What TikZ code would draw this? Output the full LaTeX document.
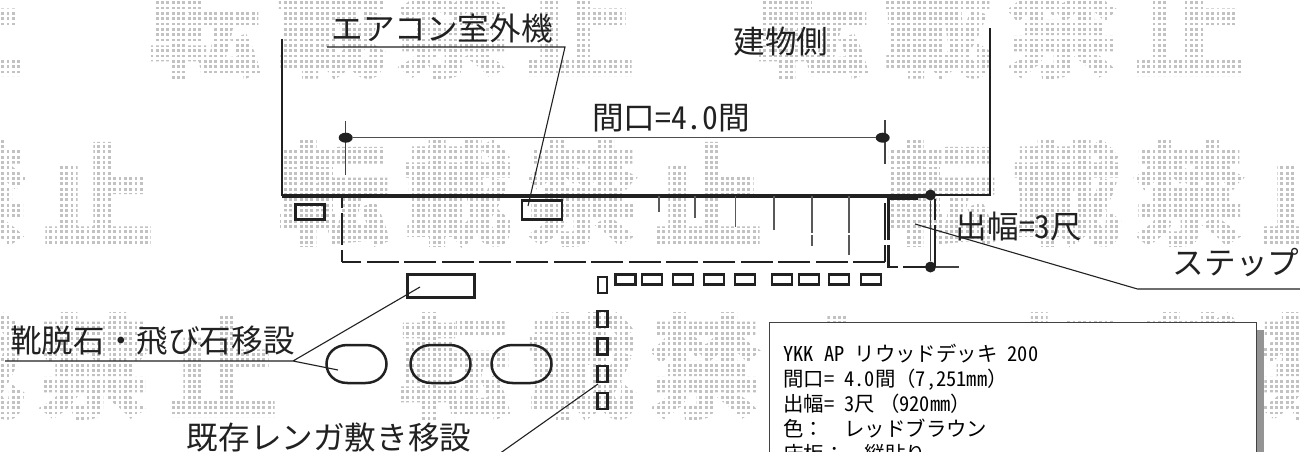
\documentclass[tikz,border=0pt]{standalone}
\usepackage{fontspec}
\setmainfont{Noto Sans CJK JP}
\newfontfamily\jpf{Noto Sans CJK JP}
\newfontfamily\wmf[FakeBold=4]{Noto Sans CJK JP Bold}
\newfontfamily\hwf[RawFeature=+hwid]{Noto Sans CJK JP}
\newcommand{\hw}[1]{{\hwf #1}}
\newcommand{\hs}{\hspace{.5em}}
\definecolor{ink}{gray}{0.13}
\definecolor{markgray}{gray}{0.76}
\tikzset{
  x=1pt,y=-1pt,
  wm/.style={font=\wmf\fontsize{110}{110}\selectfont,text=markgray,inner sep=0pt,anchor=center},
  lab/.style={font=\jpf\fontsize{31.6}{34}\selectfont,text=ink,inner sep=0pt,anchor=center},
  wall/.style={draw=ink,line width=2.7pt,line cap=butt,line join=miter},
  leader/.style={draw=ink,line width=1.1pt},
  dimthin/.style={draw=ink!85,line width=1.2pt},
  dashline/.style={draw=ink,line width=2.7pt,dash pattern=on 32pt off 5.4pt},
  brick/.style={draw=ink,line width=2.6pt,inner sep=0pt,fill=none},
  dimdot/.style={ellipse,fill=ink,inner sep=0pt},
  stoneline/.style={draw=ink,line width=2.5pt},
}
\usetikzlibrary{shapes.geometric}
\newcommand{\wmnode}[3]{\node[wm] (wm#1) at (#2) {#3};}
\newcommand{\brickbox}[5]{\node[brick,minimum width=#4pt,minimum height=#5pt] (#1) at (#2,#3) {};}
\newcommand{\stone}[2]{\draw[stoneline,shift={(#1,#2)}] (-9,-19) -- (9,-19) .. controls (22,-19) and (30,-10) .. (30,0) .. controls (30,10) and (22,19) .. (9,19) -- (-9,19) .. controls (-22,19) and (-30,10) .. (-30,0) .. controls (-30,-10) and (-22,-19) .. (-9,-19) -- cycle;}
\begin{document}
\begin{tikzpicture}
\useasboundingbox (0,0) rectangle (1300,452);
\clip (0,0) rectangle (1300,452);
\fill[white] (0,0) rectangle (1300,452);
% watermark
\wmnode{a1}{-31,25}{止}\wmnode{a2}{205,25}{転}\wmnode{a3}{331,25}{載}\wmnode{a4}{453,25}{禁}\wmnode{a5}{579,25}{止}
\wmnode{a6}{813,25}{転}\wmnode{a7}{937,25}{載}\wmnode{a8}{1062,25}{禁}\wmnode{a9}{1189,25}{止}
\wmnode{b1}{-28,193}{禁}\wmnode{b2}{98,193}{止}\wmnode{b3}{334,193}{転}\wmnode{b4}{458,193}{載}\wmnode{b5}{582,193}{禁}\wmnode{b6}{707,193}{止}
\wmnode{b7}{941,193}{転}\wmnode{b8}{1067,193}{載}\wmnode{b9}{1189,193}{禁}\wmnode{b10}{1316,193}{止}
\wmnode{c1}{-30,366}{載}\wmnode{c2}{94,366}{禁}\wmnode{c3}{222,366}{止}\wmnode{c4}{455,366}{転}\wmnode{c5}{582,366}{載}\wmnode{c6}{705,366}{禁}\wmnode{c7}{832,366}{止}
\wmnode{c8}{1065,366}{転}\wmnode{c9}{1192,366}{載}\wmnode{c10}{1315,366}{禁}
\draw[white,line width=2.5pt,step=5.33pt] (-5,-30) grid (1305,460);
% building
\draw[wall] (282,39) -- (282,195) -- (990,195) -- (990,28);
\draw[draw=ink,line width=2.4pt] (282,196.5) -- (932,196.5);
% dimension
\coordinate (tl1) at (345.7,121); \coordinate (tl2) at (345.7,175);
\coordinate (tr1) at (885,120); \coordinate (tr2) at (885,164);
\draw[dimthin] (tl1) -- (tl2);
\draw[dimthin] (tr1) -- (tr2);
\node[dimdot,minimum width=14pt,minimum height=10pt] (dl) at (345.7,137.7) {};
\node[dimdot,minimum width=14pt,minimum height=10pt] (dr) at (882.7,137.7) {};
\draw[draw=ink!80,line width=1.3pt] (dl) -- (dr);
\node[lab] (maguchi) at (671,118) {間口\hw{=4.0}間};
% deck
\coordinate (dnw) at (342,197); \coordinate (dne) at (885,197);
\coordinate (dsw) at (342,262); \coordinate (dse) at (885,262);
\draw[dashline] (dne) -- (dnw);
\draw[dashline] (dse) -- (dsw);
\draw[draw=ink,line width=2.7pt,dash pattern=on 12pt off 5pt on 32pt off 5pt on 12pt] (dsw) -- (dnw);
\draw[draw=ink,line width=2.7pt,dash pattern=on 17pt off 5pt on 37pt off 5pt] (dse) -- (dne);
% board ticks
\draw[draw=ink!75,line width=1.2pt]
  (659,196) -- (659,212) (695,196) -- (695,218) (735.7,196) -- (735.7,227)
  (774,196) -- (774,230) (812,196) -- (812,233) (812,235) -- (812,246)
  (849,196) -- (849,233) (849,235) -- (849,255);
% step
\draw[draw=ink,line width=2.7pt] (888.5,240) -- (888.5,199) -- (918,199);
\draw[draw=ink,line width=2.7pt] (888.5,245) -- (888.5,267) -- (898,267) (903,267) -- (931,267);
\draw[draw=ink,line width=2.5pt] (935,199) -- (935,220) (935,225) -- (935,267);
\node[dimdot,minimum width=11pt,minimum height=11pt] (st1) at (930.5,195) {};
\node[dimdot,minimum width=11pt,minimum height=11pt] (st2) at (930.5,267) {};
\draw[dimthin] (st1) -- (st2);
\coordinate (st3) at (959,267);
\draw[dimthin] (st2) -- (st3);
\node[lab] (dehaba) at (1019,227) {出幅\hw{=3}尺};
% small boxes
\brickbox{outer}{310}{212}{29}{15}
\brickbox{ac}{542}{210}{40}{19}
\brickbox{shoe}{441}{286}{67}{23}
% horizontal bricks
\brickbox{h1}{625.5}{279.5}{20}{10}
\brickbox{h2}{652}{279.5}{20}{10}
\brickbox{h3}{683}{279.5}{20}{10}
\brickbox{h4}{714}{279.5}{20}{10}
\brickbox{h5}{745}{279.5}{20}{10}
\brickbox{h6}{782}{279.5}{20}{10}
\brickbox{h7}{809}{279.5}{20}{10}
\brickbox{h8}{839}{279.5}{20}{10}
\brickbox{h9}{871}{279.5}{20}{10}
% vertical bricks
\brickbox{v1}{602.5}{285}{9}{16}
\brickbox{v2}{602.5}{319}{10}{16}
\brickbox{v3}{602.5}{346.5}{10}{16}
\brickbox{v4}{602.5}{374}{10}{16}
\brickbox{v5}{602.5}{401}{10}{16}
% stones
\stone{356.5}{364}
\stone{440.5}{364}
\stone{521.5}{364}
% labels and leaders
\node[lab] (acl) at (442,29) {エアコン室外機};
\coordinate (a0) at (327,47); \coordinate (a1) at (565,47); \coordinate (a2) at (528,206);
\draw[leader] (a0) -- (a1) -- (a2);
\node[lab] (bld) at (781,42) {建物側};
\node[lab] (stp) at (1236,263) {ステップ};
\coordinate (p0) at (915,224); \coordinate (p1) at (1137.5,289); \coordinate (p2) at (1300,289);
\draw[leader] (p0) -- (p1) -- (p2);
\node[lab] (shl) at (152.5,341) {靴脱石・飛び石移設};
\coordinate (q0) at (5,361); \coordinate (q1) at (293,361); \coordinate (q2) at (420,287); \coordinate (q3) at (338,370);
\draw[leader] (q0) -- (q1) -- (q2) (q1) -- (q3);
\node[lab] (brk) at (329,437) {既存レンガ敷き移設};
\coordinate (r0) at (598,384); \coordinate (r1) at (499,454);
\draw[leader] (r0) -- (r1);
% spec box
\fill[black!42] (1256,330) rectangle (1264,460);
\node[draw=ink!85,line width=1.4pt,fill=white,minimum width=487pt,minimum height=160pt,anchor=north west,inner sep=0pt] (spec) at (769,322) {};
\node[anchor=north west,inner sep=0pt,align=left,text=black,font=\jpf\fontsize{20.4}{25}\selectfont] (spect) at (783,344) {%
\hw{YKK}\hs\hw{AP}\hs リウッドデッキ\hs\hw{200}\\
間口\hw{=}\hs\hw{4.0}間（\hw{7,251mm}）\\
出幅\hw{=}\hs\hw{3}尺\hspace{.2em}（\hw{920mm}）\\
色：\hs\hs レッドブラウン\\
床板：\hs\hs 縦貼り};
\end{tikzpicture}
\end{document}
